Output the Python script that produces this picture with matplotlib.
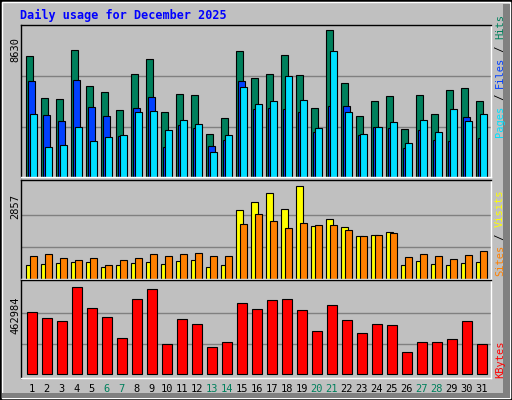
import matplotlib
matplotlib.use("Agg")
import matplotlib.pyplot as plt
from matplotlib.patches import Rectangle

days = list(range(1, 32))
weekend = [6, 7, 13, 14, 20, 21, 27, 28]
hits = [6905,4507,4450,7269,5198,4853,3817,5888,6751,3702,4737,4680,2436,3357,7212,5658,5888,6981,5831,3932,8380,5370,3472,4335,4622,2724,4680,3587,4968,5083,4335]
files = [5485,3529,3184,5543,3989,3472,2321,3932,4565,1688,2954,2781,1745,2091,5485,3874,3932,3874,3702,2551,4047,4047,2378,2839,2781,1630,2666,2091,2033,3414,2206]
pages = [3587,1688,1803,2839,2033,2263,2378,3702,3759,2666,3241,3011,1400,2378,5140,4162,4335,5773,4392,2781,7169,3702,2436,2839,3126,1918,3241,2551,3874,3184,3587]
visits = [423,452,481,510,510,366,423,481,510,452,539,568,366,423,2039,2299,2559,2068,2760,1578,1780,1549,1289,1318,1405,423,539,452,423,481,510]
sites = [683,741,625,568,625,423,568,625,741,683,741,770,683,683,1635,1924,1722,1520,1664,1607,1607,1462,1289,1318,1376,654,741,683,596,712,827]
kbytes = [313000,285000,271000,444000,337000,290000,182000,379000,430000,154000,281000,253000,136000,164000,360000,332000,374000,379000,323000,220000,351000,276000,210000,253000,248000,112000,164000,164000,178000,271000,154000]
max_hits, max_visits, max_kb = 8630, 2857, 462984

W, H = 512, 400
fig = plt.figure(figsize=(W/100, H/100), dpi=100, facecolor="#C0C0C0")
fig.add_artist(Rectangle((0, 0), 1, 1, transform=fig.transFigure, fill=False, edgecolor="black", lw=2))
fig.add_artist(Rectangle((2/W, 2/H), 1-4/W, 1-4/H, transform=fig.transFigure, fill=False, edgecolor="white", lw=1))
fig.add_artist(Rectangle((503/W, 2/H), 7/W, 1-6/H, transform=fig.transFigure, color="#808080", lw=0))
fig.add_artist(Rectangle((2/W, 2/H), 1-4/W, 5/H, transform=fig.transFigure, color="#808080", lw=0))

def ax_at(x0, y0, x1, y1):
    a = fig.add_axes([x0/W, 1-y1/H, (x1-x0)/W, (y1-y0)/H])
    a.set_facecolor("#C0C0C0")
    a.set_xlim(0.18, 31.52)
    a.set_xticks([]); a.set_yticks([])
    for s in a.spines.values():
        s.set_color("black"); s.set_linewidth(1)
    a.spines["right"].set_color("white"); a.spines["bottom"].set_color("white")
    return a

mono = "DejaVu Sans Mono"
kw = dict(edgecolor="black", linewidth=0.8, align="edge")

a1 = ax_at(21, 25, 491, 177)
a1.set_ylim(0, max_hits * 1.005)
for g in (max_hits/3, 2*max_hits/3):
    a1.axhline(g, color="#808080", lw=1, zorder=0)
a1.bar([d-0.51 for d in days], hits, 0.47, color="#00805C", **kw)
a1.bar([d-0.38 for d in days], files, 0.49, color="#0040FF", **kw)
a1.bar([d-0.24 for d in days], pages, 0.49, color="#00E0FF", **kw)

a2 = ax_at(21, 180, 491, 279)
a2.set_ylim(0, max_visits * 1.03)
for g in (max_visits/3, 2*max_visits/3):
    a2.axhline(g, color="#808080", lw=1, zorder=0)
a2.bar([d-0.51 for d in days], visits, 0.5, color="#FFFF00", **kw)
a2.bar([d-0.24 for d in days], sites, 0.49, color="#FF8000", **kw)

a3 = ax_at(21, 280, 491, 378)
a3.set_ylim(-max_kb*0.04, max_kb * 1.03)
for g in (max_kb/3, 2*max_kb/3):
    a3.axhline(g, color="#808080", lw=1, zorder=0)
a3.bar([d-0.44 for d in days], kbytes, 0.69, color="#FF0000", **kw)

for d in days:
    a3.text(d - 0.1, -0.11, str(d), transform=a3.get_xaxis_transform(), ha="center", va="center",
            fontsize=7.5, family=mono, color="#00805C" if d in weekend else "black")

fig.text(20/W, 1-15/H, "Daily usage for December 2025", fontsize=8.5, family=mono,
         fontweight="bold", color="#0000FF", ha="left", va="center")
for y, lab in ((50, "8630"), (207, "2857"), (315, "462984")):
    fig.text(15/W, 1-y/H, lab, rotation=90, fontsize=7.5, family=mono, ha="center", va="center")

def side(x, y_bottom, parts):
    y = y_bottom
    for txt, col in parts:
        fig.text(x/W, 1-y/H, txt, rotation=90, fontsize=7.5, family=mono, color=col, ha="center", va="bottom")
        y -= len(txt) * 6.1
side(500, 137, [("Pages", "#00E0FF"), (" / ", "black"), ("Files", "#0040FF"), (" / ", "black"), ("Hits", "#00805C")])
side(500, 276, [("Sites", "#FF8000"), (" / ", "black"), ("Visits", "#FFFF00")])
side(500, 378, [("KBytes", "#FF0000")])

fig.savefig("out.png", dpi=100, facecolor=fig.get_facecolor())
